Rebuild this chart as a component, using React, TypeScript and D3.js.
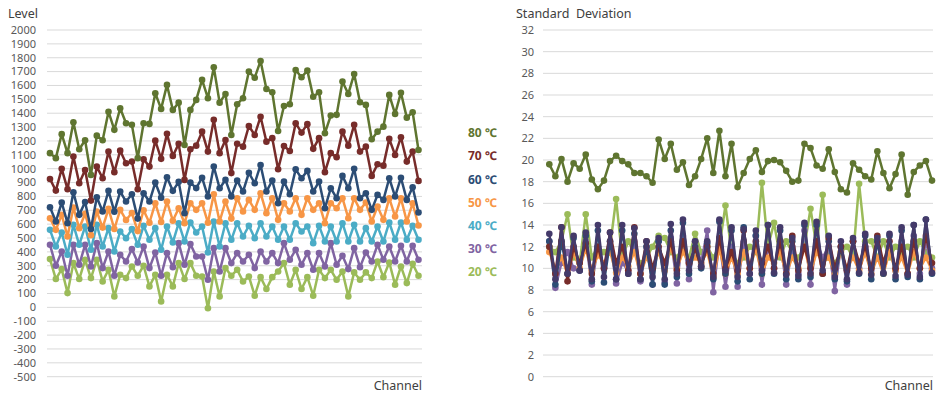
import React from "react";
import * as d3 from "d3";

const channels = d3.range(64);
const levelTicks = d3.range(-500, 2001, 100);
const sdTicks = d3.range(0, 33, 2);
const tempLabels = ["20 ℃", "30 ℃", "40 ℃", "50 ℃", "60 ℃", "70 ℃", "80 ℃"];
const colors = ["#9BBB59", "#8064A2", "#4BACC6", "#F79646", "#2C4D75", "#772C2A", "#5F7530"];
const sdColors = ["#9BBB59", "#8064A2", "#443A6A", "#F79646", "#2C4D75", "#772C2A", "#5F7530"];
const sdOrder = [0, 1, 3, 4, 5, 2, 6];

const level20 = [348,204,276,103,319,204,343,211,343,187,271,79,235,211,295,228,300,151,235,43,235,151,319,204,319,228,223,-6,259,79,283,228,271,187,223,84,218,132,218,259,319,163,271,132,218,84,271,211,271,199,259,79,252,199,252,211,331,218,324,163,295,175,314,228];
const level30 = [451,300,403,228,451,307,451,295,463,283,403,228,379,331,420,324,439,283,396,228,391,290,463,307,456,367,367,199,427,259,427,319,391,331,379,283,403,331,391,319,463,343,415,307,391,271,391,295,463,307,372,276,427,290,396,331,451,343,439,331,444,331,444,343];
const level40 = [559,439,540,379,595,451,583,415,595,439,571,403,547,499,564,451,588,487,571,415,583,468,607,475,612,540,583,396,619,439,607,487,607,511,588,499,607,511,583,487,583,487,607,547,583,463,588,475,583,475,607,475,595,475,571,475,583,475,612,487,612,487,588,487];
const level50 = [643,559,667,511,720,570,675,520,690,575,710,565,703,630,680,550,700,610,751,615,763,625,715,607,751,703,751,610,815,619,763,640,787,691,775,703,823,679,787,631,751,691,787,667,787,703,751,607,751,715,787,643,787,703,756,619,727,631,787,655,787,619,751,590];
const level60 = [722,619,756,607,830,667,760,565,794,691,840,690,835,763,816,640,823,763,900,790,938,840,905,679,900,860,935,799,1015,859,919,800,914,835,970,895,1027,835,915,751,907,816,995,931,984,835,907,715,859,787,948,859,1000,787,823,703,811,775,931,799,935,775,866,684];
const level70 = [926,842,999,852,1087,895,991,770,1015,931,1123,975,1130,1039,1051,852,1068,1015,1202,1071,1251,1092,1179,919,1140,1166,1267,1123,1352,1112,1207,968,1179,1159,1308,1243,1375,1195,1220,996,1164,1128,1328,1260,1321,1143,1220,975,1112,1083,1267,1166,1316,1123,1159,948,1032,1022,1215,1099,1227,1051,1123,912];
const level80 = [1112,1076,1249,1112,1335,1140,1205,955,1238,1205,1411,1280,1436,1328,1316,1076,1328,1323,1544,1431,1604,1424,1476,1171,1424,1496,1640,1508,1731,1476,1539,1243,1465,1508,1700,1656,1777,1575,1551,1272,1452,1465,1712,1659,1707,1519,1551,1256,1383,1388,1628,1539,1683,1479,1460,1212,1267,1303,1532,1395,1548,1368,1407,1135];

const sd20 = [12.0,11.5,12.5,15.0,11.0,10.5,15.0,11.0,12.0,11.5,12.0,16.4,11.0,12.5,11.5,10.5,11.0,12.0,13.0,12.8,11.5,11.0,12.0,11.0,13.2,11.5,12.0,11.0,12.0,15.8,11.5,10.5,11.0,12.0,11.5,17.9,12.0,14.2,11.0,12.5,11.5,11.0,12.0,15.5,12.0,16.8,11.0,10.5,11.5,12.0,11.0,17.8,12.5,12.5,11.0,12.5,11.0,12.0,11.5,12.0,11.0,12.5,11.5,11.0];
const sd30 = [12.5,8.2,10.5,11.5,10.0,9.8,12.5,8.5,12.0,10.0,12.5,8.6,10.5,9.8,12.5,8.8,12.0,8.5,12.5,8.7,12.8,8.6,13.0,9.0,12.5,10.5,13.5,7.8,12.5,8.3,12.0,8.3,12.5,9.5,13.0,8.5,12.0,10.0,12.5,8.5,12.0,9.5,13.5,8.5,12.5,11.0,12.0,7.9,12.0,8.5,12.5,10.0,11.5,9.8,12.5,9.5,12.0,9.8,12.5,9.5,13.0,9.5,12.5,10.0];
const sd40 = [13.2,9.0,13.8,9.5,13.0,9.8,13.3,9.0,14.0,9.2,13.3,9.0,14.0,9.5,13.7,9.0,12.5,9.2,12.8,9.0,14.1,9.5,14.5,9.8,12.5,10.2,12.5,9.2,14.5,9.8,13.8,9.2,13.6,9.5,13.5,9.8,14.0,9.6,13.8,9.4,12.8,9.3,14.2,9.5,14.3,9.8,13.0,9.2,12.5,9.0,12.8,9.6,13.2,9.4,12.8,9.6,13.2,9.3,13.8,9.4,14.0,9.2,14.5,9.6];
const sd50 = [11.5,10.0,11.0,9.5,11.5,10.0,11.8,9.8,11.2,10.5,11.5,9.6,11.0,10.2,11.5,9.5,11.0,10.0,11.5,9.8,12.0,10.0,11.5,10.5,11.0,10.5,11.5,9.2,11.8,9.5,11.0,9.5,11.5,10.0,11.8,9.5,11.0,10.5,11.5,9.5,11.0,10.0,12.0,9.5,11.5,10.5,11.0,9.5,11.5,10.0,11.0,9.8,11.5,9.5,11.0,9.5,11.5,9.8,11.0,9.5,11.5,10.0,11.0,9.8];
const sd60 = [12.5,8.5,12.5,9.5,12.8,9.8,13.0,8.8,13.5,8.7,12.5,9.0,13.5,9.5,13.2,9.0,12.0,8.5,12.5,8.5,13.5,9.2,14.2,9.5,12.0,10.0,12.3,9.0,14.3,9.5,13.5,8.8,13.8,9.0,13.0,9.5,14.0,9.5,13.5,9.0,12.5,9.0,14.0,9.2,14.0,9.5,12.5,9.0,12.0,8.8,12.5,9.5,13.0,9.0,12.5,9.5,13.0,9.0,13.5,9.2,14.0,9.0,14.5,9.5];
const sd70 = [12.0,9.5,13.8,8.8,12.0,10.5,12.3,9.5,12.0,10.0,13.3,10.5,12.0,9.8,13.8,9.5,12.5,10.0,12.0,10.5,12.5,9.8,12.5,10.5,11.8,10.2,12.0,9.5,12.8,10.0,11.5,9.8,13.5,10.0,12.5,10.5,12.0,10.0,12.5,9.5,13.0,9.8,12.0,10.0,12.5,9.5,12.8,10.0,12.0,9.8,12.5,10.5,12.0,10.0,13.0,10.5,12.5,10.0,12.0,9.5,12.5,10.0,13.0,10.5];
const sd80 = [19.6,18.5,20.1,18.0,19.7,19.2,20.5,18.2,17.3,18.1,19.9,20.4,19.9,19.6,18.8,18.8,18.5,17.9,21.9,20.1,21.5,19.1,19.8,17.7,18.5,20.1,22.0,18.8,22.7,18.5,21.5,17.5,18.8,20.1,20.9,18.9,19.9,20.0,19.8,19.0,18.0,18.1,21.5,21.1,19.5,19.2,21.0,18.9,17.3,17.0,19.7,19.1,18.5,18.2,20.8,18.8,17.4,18.7,20.5,16.8,18.9,19.5,19.9,18.1];

const levelSeries = [level20, level30, level40, level50, level60, level70, level80];
const sdSeries = [sd20, sd30, sd40, sd50, sd60, sd70, sd80];

const FONT = "'Noto Sans', 'Noto Sans CJK KR', sans-serif";
const TOP = 30;
const BOTTOM = 376.7;

function Panel({ series, cols, order, ticks, yDomain, xRange, gridX, labelX, title, titleX }: any) {
  const x = d3.scaleLinear().domain([0, channels.length - 1]).range(xRange);
  const y = d3.scaleLinear().domain(yDomain).range([BOTTOM, TOP]);
  const line = d3.line<number>().x((_, i) => x(i)).y((d) => y(d));
  return (
    <g>
      {ticks.map((t: number) => (
        <g key={t}>
          <line x1={gridX[0]} x2={gridX[1]} y1={y(t)} y2={y(t)} stroke="#D9D9D9" strokeWidth={1} />
          <text x={labelX} y={y(t)} dy="0.35em" textAnchor="end" fontSize={11} fill="#595959" fontFamily={FONT}>{t}</text>
        </g>
      ))}
      <text x={titleX} y={18} fontSize={12.5} fill="#404040" fontFamily={FONT} style={{ whiteSpace: "pre" }}>{title}</text>
      <text x={gridX[1]} y={390} textAnchor="end" fontSize={12.5} fill="#404040" fontFamily={FONT}>Channel</text>
      {order.map((si: number) => {
        const s: number[] = series[si];
        return (
          <g key={si}>
            <path d={line(s) || ""} fill="none" stroke={cols[si]} strokeWidth={2.5} strokeLinejoin="round" />
            {s.map((v, i) => (
              <circle key={i} cx={x(i)} cy={y(v)} r={3.3} fill={cols[si]} />
            ))}
          </g>
        );
      })}
    </g>
  );
}

export default function App() {
  const legendY = d3.scaleLinear().domain([6, 0]).range([133, 272]);
  return (
    <svg width={948} height={402} style={{ position: "absolute", left: 0, top: 0, background: "#fff" }}>
      <rect width={948} height={402} fill="#fff" />
      <Panel series={levelSeries} cols={colors} order={[0, 1, 2, 3, 4, 5, 6]} ticks={levelTicks} yDomain={[-500, 2000]} xRange={[50, 418.5]} gridX={[47, 422]} labelX={36} title="Level" titleX={8} />
      <Panel series={sdSeries} cols={sdColors} order={sdOrder} ticks={sdTicks} yDomain={[0, 32]} xRange={[549.3, 932]} gridX={[543, 933]} labelX={534} title="Standard  Deviation" titleX={516} />
      {tempLabels.map((l, i) => (
        <text key={l} x={468} y={legendY(i)} dy="0.35em" fontSize={12} fontWeight="bold" fill={colors[i]} fontFamily={FONT}>{l}</text>
      ))}
    </svg>
  );
}
